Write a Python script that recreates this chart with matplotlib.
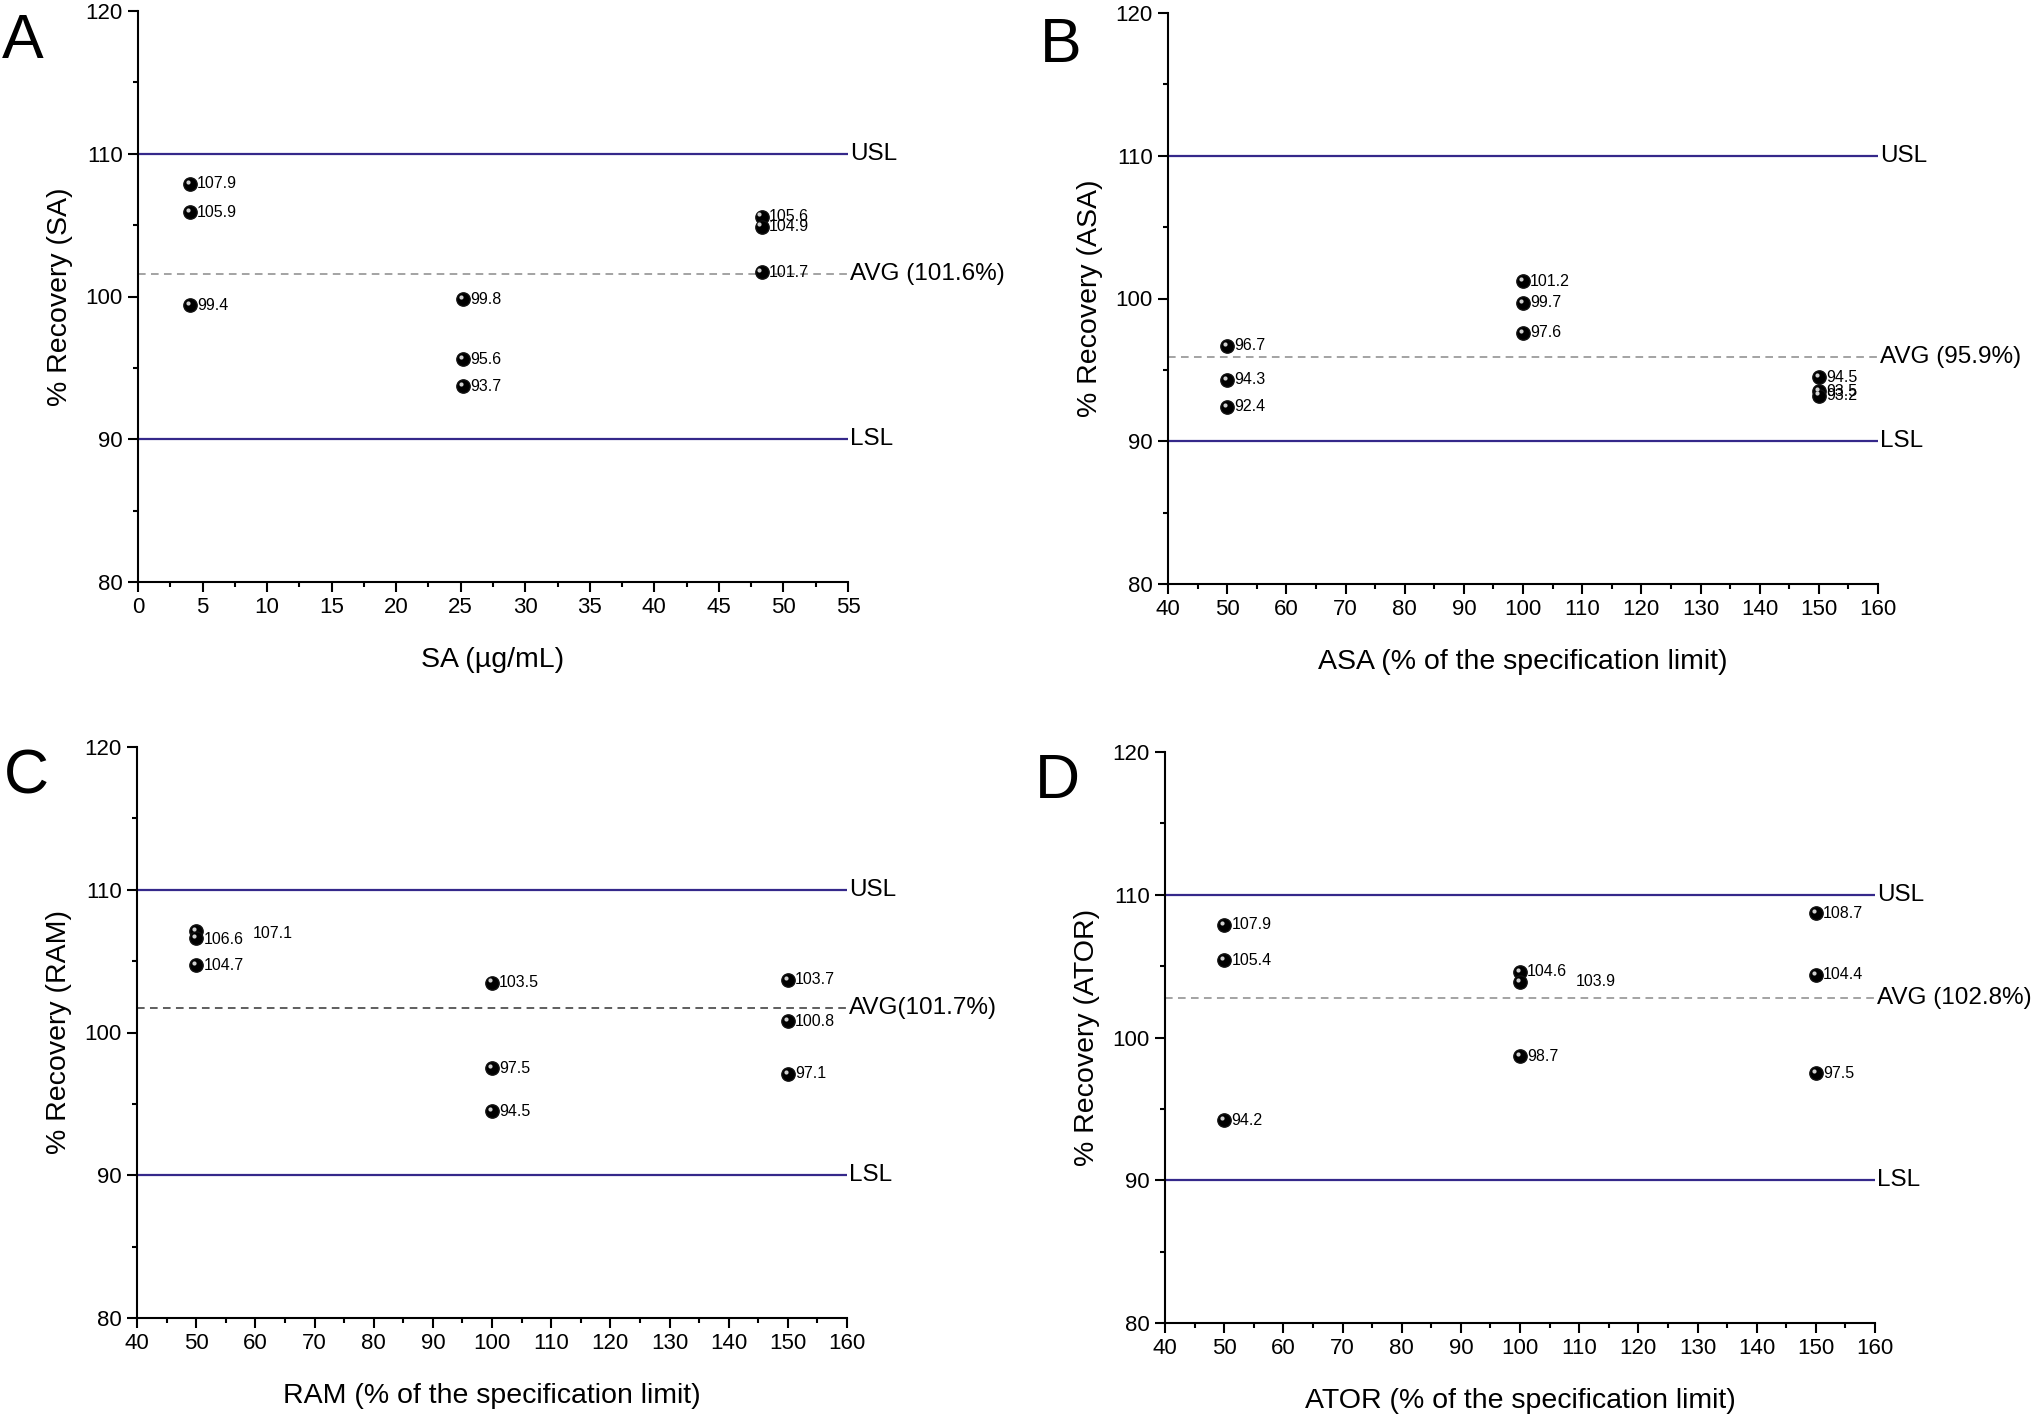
import matplotlib
matplotlib.use('Agg')
import matplotlib.pyplot as plt
from matplotlib.ticker import MultipleLocator
from matplotlib.transforms import offset_copy, blended_transform_factory

plt.rcParams['font.family'] = ['Liberation Sans', 'DejaVu Sans']

# specification limits (same for all panels)
usl = 110
lsl = 90

# Panel A - SA
sa_conc = [4, 4, 4, 25.2, 25.2, 25.2, 48.3, 48.3, 48.3]
sa_rec = [107.9, 105.9, 99.4, 99.8, 95.6, 93.7, 105.6, 104.9, 101.7]
sa_avg = 101.6

# Panel B - ASA
asa_level = [50, 50, 50, 100, 100, 100, 150, 150, 150]
asa_rec = [96.7, 94.3, 92.4, 101.2, 99.7, 97.6, 94.5, 93.5, 93.2]
asa_avg = 95.9

# Panel C - RAM
ram_level = [50, 50, 50, 100, 100, 100, 150, 150, 150]
ram_rec = [107.1, 106.6, 104.7, 103.5, 97.5, 94.5, 103.7, 100.8, 97.1]
ram_avg = 101.7

# Panel D - ATOR
ator_level = [50, 50, 50, 100, 100, 100, 150, 150, 150]
ator_rec = [107.9, 105.4, 94.2, 104.6, 103.9, 98.7, 108.7, 104.4, 97.5]
ator_avg = 102.8

LINE_BLUE = '#35288a'
TICK_FS = 16
SIDE_FS = 17.5
LABEL_FS = 20.5
POINT_FS = 11.5


def draw_panel(ax, x, y, avg, avg_text, avg_color, xlim, xmajor, xminor,
               xlabel, ylabel, moved_labels=None):
    '''
    One recovery panel: points, spec limits, average line and labels.
    moved_labels: dict, index of point -> (dx, dy) offset in points
                  for the labels that were dragged away from the marker
    '''
    if moved_labels is None:
        moved_labels = {}

    # spec limits and average
    ax.axhline(usl, color=LINE_BLUE, lw=1.6, zorder=1)
    ax.axhline(lsl, color=LINE_BLUE, lw=1.6, zorder=1)
    ax.axhline(avg, color=avg_color, lw=1.1, ls=(0, (5, 3.5)), zorder=1)

    trans = blended_transform_factory(ax.transAxes, ax.transData)
    for val, txt in [(usl, 'USL'), (lsl, 'LSL'), (avg, avg_text)]:
        ax.text(1.003, val, txt, transform=trans, ha='left', va='center',
                fontsize=SIDE_FS, clip_on=False)

    # sphere-like markers: black ball + small highlight
    ax.plot(x, y, 'o', ms=9.6, color='black', mec='#111111', zorder=3)
    hl = offset_copy(ax.transData, fig=ax.figure, x=-1.5, y=1.5, units='points')
    ax.plot(x, y, 'o', ms=3.0, color='#d0d0d0', mec='none', zorder=4,
            transform=hl)

    # value labels
    for i in range(len(x)):
        dx, dy = moved_labels.get(i, (5.2, 0))
        ax.annotate('%.1f' % y[i], (x[i], y[i]), xytext=(dx, dy),
                    textcoords='offset points', ha='left', va='center',
                    fontsize=POINT_FS, zorder=5)

    # axes style
    ax.set_xlim(xlim)
    ax.set_ylim(80, 120)
    ax.xaxis.set_major_locator(MultipleLocator(xmajor))
    ax.xaxis.set_minor_locator(MultipleLocator(xminor))
    ax.yaxis.set_major_locator(MultipleLocator(10))
    ax.yaxis.set_minor_locator(MultipleLocator(5))
    for side in ['top', 'right']:
        ax.spines[side].set_visible(False)
    for side in ['left', 'bottom']:
        ax.spines[side].set_linewidth(1.5)
    ax.tick_params(which='major', direction='out', length=7, width=1.5,
                   labelsize=TICK_FS, pad=4)
    ax.tick_params(which='minor', direction='out', length=3.5, width=1.5)
    ax.set_xlabel(xlabel, fontsize=LABEL_FS, labelpad=21)
    ax.set_ylabel(ylabel, fontsize=LABEL_FS, labelpad=9)


fig = plt.figure(figsize=(20.32, 14.16), dpi=100)
W, H = 2032.0, 1416.0


def add_axes_px(left, top, width=710, height=571):
    return fig.add_axes([left / W, 1 - (top + height) / H, width / W, height / H])


ax_a = add_axes_px(138, 11)
ax_b = add_axes_px(1168, 13)
ax_c = add_axes_px(137, 747)
ax_d = add_axes_px(1165, 752)

draw_panel(ax_a, sa_conc, sa_rec, sa_avg, 'AVG (101.6%)', '#8a8a8a',
           (0, 55), 5, 2.5, 'SA (µg/mL)', '% Recovery (SA)')
draw_panel(ax_b, asa_level, asa_rec, asa_avg, 'AVG (95.9%)', '#8a8a8a',
           (40, 160), 10, 5, 'ASA (% of the specification limit)',
           '% Recovery (ASA)')
draw_panel(ax_c, ram_level, ram_rec, ram_avg, 'AVG(101.7%)', '#333333',
           (40, 160), 10, 5, 'RAM (% of the specification limit)',
           '% Recovery (RAM)', moved_labels={0: (41, -2), 1: (5.2, -1)})
draw_panel(ax_d, ator_level, ator_rec, ator_avg, 'AVG (102.8%)', '#8a8a8a',
           (40, 160), 10, 5, 'ATOR (% of the specification limit)',
           '% Recovery (ATOR)', moved_labels={4: (40, 0)})

# panel letters
for px, py, letter in [(2, 12, 'A'), (1040, 16, 'B'), (4, 748, 'C'), (1035, 752, 'D')]:
    fig.text(px / W, 1 - py / H, letter, fontsize=45, ha='left', va='top')

plt.savefig('out.png', dpi=100)
